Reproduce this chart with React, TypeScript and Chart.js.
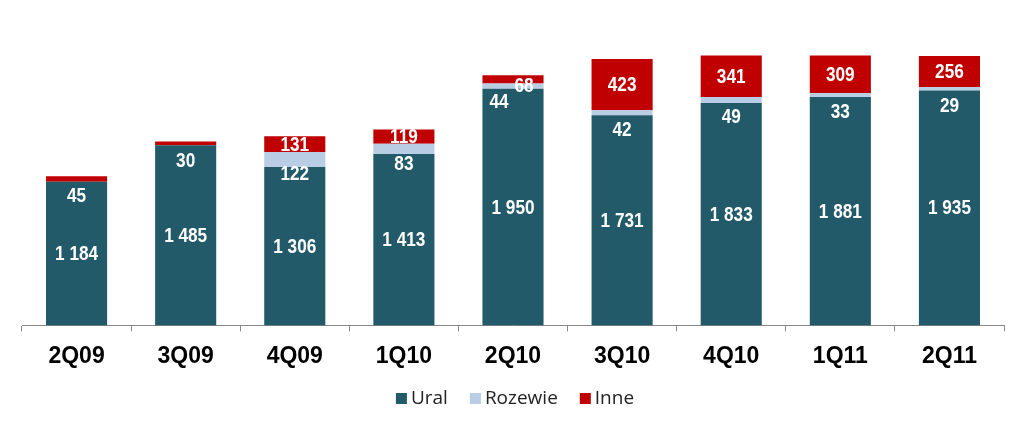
import React, { useEffect, useRef } from "react";
import { Chart, registerables } from "chart.js";

Chart.register(...registerables);

const categories = ["2Q09", "3Q09", "4Q09", "1Q10", "2Q10", "3Q10", "4Q10", "1Q11", "2Q11"];
const ural = [1184, 1485, 1306, 1413, 1950, 1731, 1833, 1881, 1935];
const rozewie = [45, 30, 122, 83, 44, 42, 49, 33, 29];
const inne = [0, 0, 131, 119, 68, 423, 341, 309, 256];
const seriesNames = ["Ural", "Rozewie", "Inne"];

const URAL_C = "#235A69";
const ROZ_C = "#B9CDE5";
const INNE_C = "#C00000";
const seriesColors = [URAL_C, ROZ_C, INNE_C];
const rozColors = rozewie.map((_, i) => (inne[i] > 0 ? ROZ_C : INNE_C));

const fmt = (v: number) => String(v).replace(/\B(?=(\d{3})+(?!\d))/g, " ");

const drawNarrow = (ctx: CanvasRenderingContext2D, text: string, x: number, y: number) => {
  ctx.save();
  ctx.translate(x, y);
  ctx.scale(0.86, 1);
  ctx.fillText(text, 0, 0);
  ctx.restore();
};

const labelPlugin = {
  id: "segLabels",
  afterDatasetsDraw(chart: any) {
    const ctx = chart.ctx;
    const m0 = chart.getDatasetMeta(0);
    const m1 = chart.getDatasetMeta(1);
    const m2 = chart.getDatasetMeta(2);
    ctx.save();
    ctx.fillStyle = "#FFFFFF";
    ctx.textAlign = "center";
    ctx.textBaseline = "middle";
    ctx.font = "bold 20px 'Liberation Sans', Arial, sans-serif";
    categories.forEach((_, i) => {
      const b0 = m0.data[i];
      const b1 = m1.data[i];
      const b2 = m2.data[i];
      drawNarrow(ctx, fmt(ural[i]), b0.x, (b0.y + b0.base) / 2 + 1);
      const rozH = Math.abs(b1.base - b1.y);
      const tight = inne[i] > 0 && Math.abs(b2.base - b2.y) < 12;
      const rozOff = tight ? 14 : 19 - rozH * 0.8;
      drawNarrow(ctx, fmt(rozewie[i]), b1.x - (tight ? 14 : 0), b0.y + rozOff);
      if (inne[i] > 0) {
        const y = tight ? b2.y + 11 : (b2.y + b2.base) / 2 + 1;
        drawNarrow(ctx, fmt(inne[i]), b2.x + (tight ? 11 : 0), y);
      }
    });
    ctx.restore();
  },
};

const legendPlugin = {
  id: "customLegend",
  afterDraw(chart: any) {
    const ctx = chart.ctx;
    ctx.save();
    ctx.font = "19px 'Open Sans', 'Noto Sans', sans-serif";
    ctx.textBaseline = "middle";
    ctx.textAlign = "left";
    const box = 11;
    const gapText = 4;
    const gapItem = 22;
    const widths = seriesNames.map((n) => box + gapText + ctx.measureText(n).width);
    const total = widths.reduce((a, b) => a + b, 0) + gapItem * (seriesNames.length - 1);
    let x = 515 - total / 2;
    const cy = 399;
    seriesNames.forEach((n, i) => {
      ctx.fillStyle = seriesColors[i];
      ctx.fillRect(x, cy - box / 2 - 0.5, box, box);
      ctx.fillStyle = "#222";
      ctx.fillText(n, x + box + gapText, cy);
      x += widths[i] + gapItem;
    });
    ctx.restore();
  },
};

export default function App() {
  const ref = useRef<HTMLCanvasElement>(null);
  useEffect(() => {
    document.body.style.margin = "0";
    const chart = new Chart(ref.current as HTMLCanvasElement, {
      type: "bar",
      data: {
        labels: categories,
        datasets: [
          { label: seriesNames[0], data: ural, backgroundColor: URAL_C },
          { label: seriesNames[1], data: rozewie, backgroundColor: rozColors },
          { label: seriesNames[2], data: inne, backgroundColor: INNE_C },
        ],
      },
      options: {
        responsive: false,
        animation: false,
        layout: { padding: { left: 22, right: 20, top: 22, bottom: 50 } },
        datasets: { bar: { categoryPercentage: 0.56, barPercentage: 1 } },
        plugins: {
          legend: { display: false },
          tooltip: { enabled: false },
        },
        scales: {
          x: {
            stacked: true,
            grid: { display: true, drawOnChartArea: false, drawTicks: true, tickLength: 6, color: "#888", offset: true },
            border: { display: true, color: "#888" },
            ticks: { color: "#000", padding: 11, font: { family: "'Liberation Sans', Arial, sans-serif", size: 23, weight: "bold" } },
          },
          y: { stacked: true, display: false, min: 0, max: 2500 },
        },
      },
      plugins: [labelPlugin, legendPlugin],
    } as any);
    return () => chart.destroy();
  }, []);
  return <canvas ref={ref} width={1024} height={431} style={{ display: "block" }} />;
}
